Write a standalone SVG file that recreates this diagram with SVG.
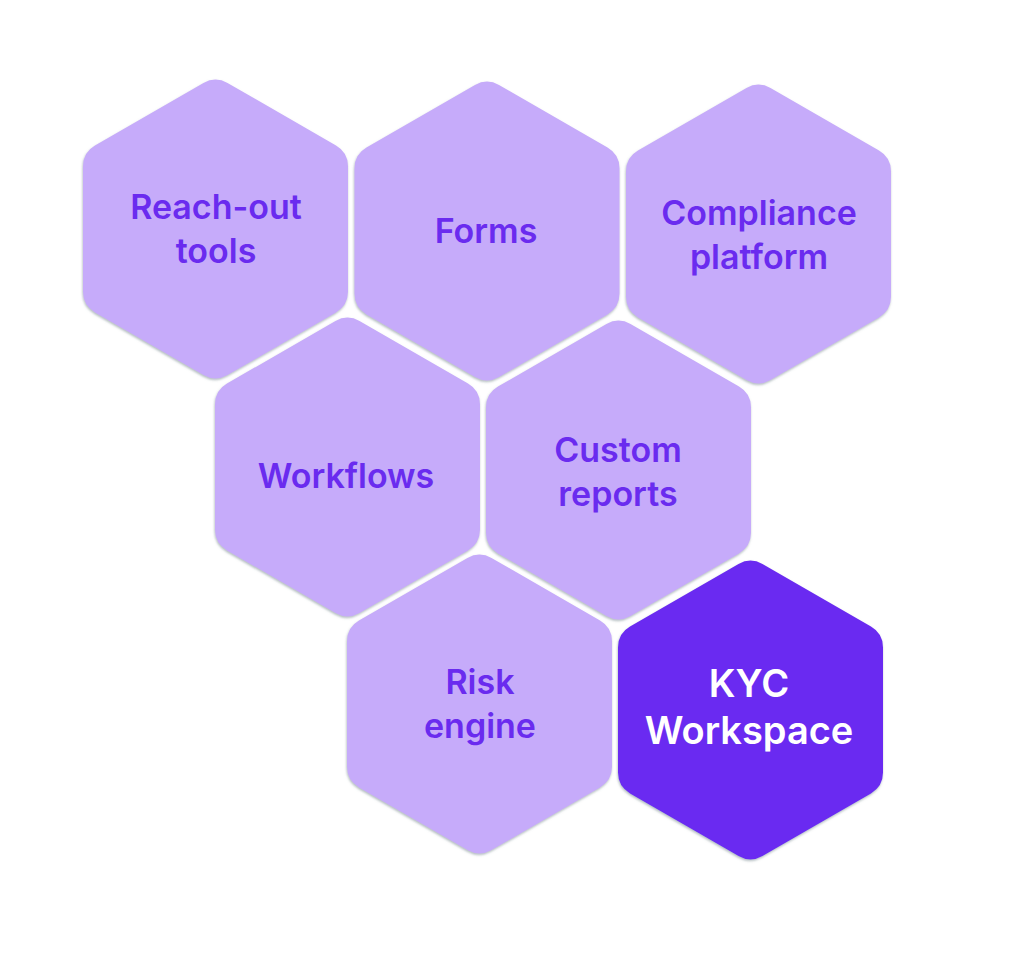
<svg xmlns="http://www.w3.org/2000/svg" xmlns:xlink="http://www.w3.org/1999/xlink" width="1024" height="980" viewBox="0 0 1024 980">
  <style>
    .hex-light { fill: #C6ABFA; }
    .hex-dark { fill: #6B2AF1; }
    .lbl { font-family: Inter, "Liberation Sans", Arial, sans-serif; font-weight: 600; font-size: 34px; text-anchor: middle; fill: #6A2BEF; }
    .lbl-dark { font-family: Inter, "Liberation Sans", Arial, sans-serif; font-weight: 600; font-size: 38px; text-anchor: middle; fill: #FFFFFF; }
  </style>
  <defs>
    <filter id="sh" x="-10%" y="-10%" width="120%" height="120%">
      <feDropShadow dx="-0.5" dy="1.5" stdDeviation="1.2" flood-color="#6f8388" flood-opacity="0.55"/>
    </filter>
    <path id="hex" d="M -12,-146.1 A 24 24 0 0 1 12,-146.1 L 120.5,-83.4 A 24 24 0 0 1 132.5,-62.6 L 132.5,62.6 A 24 24 0 0 1 120.5,83.4 L 12,146.1 A 24 24 0 0 1 -12,146.1 L -120.5,83.4 A 24 24 0 0 1 -132.5,62.6 L -132.5,-62.6 A 24 24 0 0 1 -120.5,-83.4 Z"/>
  </defs>
  <rect width="1024" height="980" fill="#FFFFFF"/>
  <g id="connectors"/>
  <g id="reach-out-tools">
    <use xlink:href="#hex" href="#hex" class="hex-light" filter="url(#sh)" transform="translate(215.5,229)"/>
    <text class="lbl" x="216" y="219">Reach-out</text>
    <text class="lbl" x="216" y="263">tools</text>
  </g>
  <g id="forms">
    <use xlink:href="#hex" href="#hex" class="hex-light" filter="url(#sh)" transform="translate(487,231)"/>
    <text class="lbl" x="486" y="243">Forms</text>
  </g>
  <g id="compliance-platform">
    <use xlink:href="#hex" href="#hex" class="hex-light" filter="url(#sh)" transform="translate(758.5,234)"/>
    <text class="lbl" x="759" y="225">Compliance</text>
    <text class="lbl" x="759" y="269">platform</text>
  </g>
  <g id="workflows">
    <use xlink:href="#hex" href="#hex" class="hex-light" filter="url(#sh)" transform="translate(347.5,467)"/>
    <text class="lbl" x="346" y="488">Workflows</text>
  </g>
  <g id="custom-reports">
    <use xlink:href="#hex" href="#hex" class="hex-light" filter="url(#sh)" transform="translate(618.5,470)"/>
    <text class="lbl" x="618" y="462">Custom</text>
    <text class="lbl" x="618" y="506">reports</text>
  </g>
  <g id="risk-engine">
    <use xlink:href="#hex" href="#hex" class="hex-light" filter="url(#sh)" transform="translate(479.5,704)"/>
    <text class="lbl" x="480" y="694">Risk</text>
    <text class="lbl" x="480" y="738">engine</text>
  </g>
  <g id="kyc-workspace">
    <use xlink:href="#hex" href="#hex" class="hex-dark" filter="url(#sh)" transform="translate(750.5,710)"/>
    <text class="lbl-dark" x="749" y="697">KYC</text>
    <text class="lbl-dark" x="749" y="744">Workspace</text>
  </g>
</svg>
